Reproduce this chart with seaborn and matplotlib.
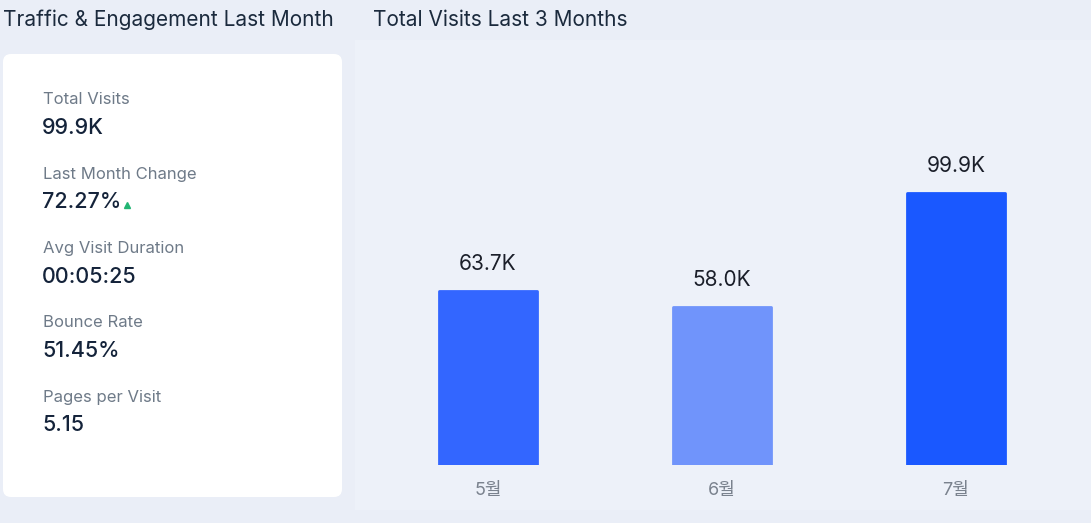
import numpy as np
import pandas as pd
import seaborn as sns
import matplotlib
matplotlib.use("Agg")
import matplotlib.pyplot as plt
from matplotlib.patches import FancyBboxPatch

# data
months = ["5월", "6월", "7월"]
visits = [63.7, 58.0, 99.9]          # thousands
bar_labels = ["63.7K", "58.0K", "99.9K"]
bar_colors = ["#3366FF", "#7094FB", "#1A58FF"]

metric_names = ["Total Visits", "Last Month Change", "Avg Visit Duration", "Bounce Rate", "Pages per Visit"]
metric_values = ["99.9K", "72.27%", "00:05:25", "51.45%", "5.15"]

sns.set_theme(style="white")
plt.rcParams["font.family"] = ["Inter", "Noto Sans CJK KR", "DejaVu Sans"]

W, H = 1091, 523
fig = plt.figure(figsize=(W / 100, H / 100), dpi=100)
fig.patch.set_facecolor("#EAEEF7")

# background layer in pixel coords for card + headings
bg = fig.add_axes([0, 0, 1, 1])
bg.set_xlim(0, W)
bg.set_ylim(H, 0)
bg.axis("off")
bg.add_patch(FancyBboxPatch((355, 40), 736, 470, boxstyle="square,pad=0",
                            facecolor="#EDF1F9", edgecolor="none"))
bg.add_patch(FancyBboxPatch((9, 60), 327, 431, boxstyle="round,pad=6,rounding_size=8",
                            facecolor="white", edgecolor="none"))
bg.text(3, 20, "Traffic & Engagement Last Month", fontsize=15, color="#1B2A3D", va="center", ha="left")
bg.text(373, 20, "Total Visits Last 3 Months", fontsize=15, color="#1B2A3D", va="center", ha="left")

for i, (name, val) in enumerate(zip(metric_names, metric_values)):
    y0 = 100 + i * 74.3
    bg.text(43, y0, name, fontsize=12, color="#6E7A88", va="center", ha="left")
    bg.text(42, y0 + 28, val, fontsize=15.5, color="#14233A", va="center", ha="left",
            fontweight="medium")
    if name == "Last Month Change":
        bg.plot([127], [y0 + 31], marker="^", color="#22B573", markersize=5)

# bar chart
ax = fig.add_axes([355 / W, (H - 465) / H, 736 / W, 425 / H])
ax.set_facecolor("none")
df = pd.DataFrame({"month": months, "visits": visits})
sns.barplot(data=df, x="month", y="visits", hue="month", palette=bar_colors,
            saturation=1, width=0.42, legend=False, ax=ax)
for p, c in zip(ax.patches, bar_colors):
    p.set_edgecolor(c)
    p.set_linewidth(2)
    p.set_joinstyle("round")
for i, (v, lab) in enumerate(zip(visits, bar_labels)):
    ax.annotate(lab, (i, v), xytext=(0, 27), textcoords="offset pixels",
                ha="center", va="center", fontsize=15, color="#1B1F2A")
ax.set_xlim(-0.568, 2.577)
ax.set_ylim(0, 156)
ax.set_xlabel("")
ax.set_ylabel("")
ax.set_yticks([])
ax.tick_params(axis="x", length=0, pad=12, labelsize=13, labelcolor="#7A828E")
for s in ax.spines.values():
    s.set_visible(False)

fig.savefig("out.png", dpi=100, facecolor=fig.get_facecolor())
